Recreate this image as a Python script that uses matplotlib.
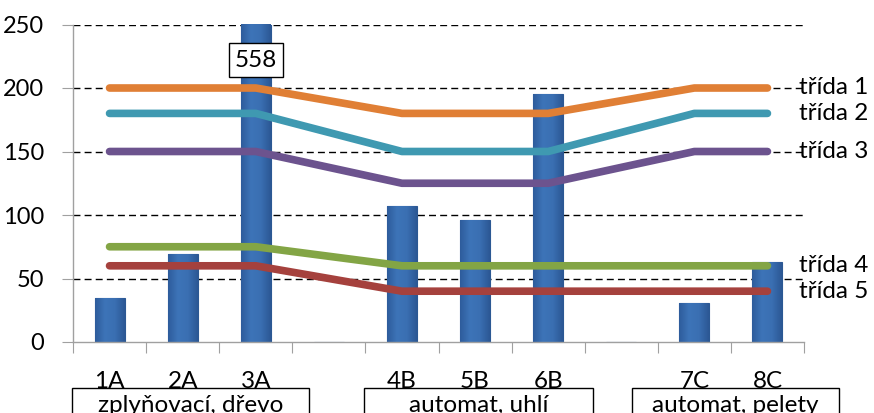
import matplotlib
matplotlib.use("Agg")
import matplotlib.pyplot as plt
import matplotlib.transforms as mtransforms
from matplotlib.patches import Rectangle
from matplotlib.colors import LinearSegmentedColormap
import numpy as np

plt.rcParams['font.family'] = ['Lato', 'DejaVu Sans']

categories = ["1A", "2A", "3A", "", "4B", "5B", "6B", "", "7C", "8C"]
bar_values = [35, 69, 558, 0, 107, 96, 195, 0, 31, 63]

line_categories = ["1A", "2A", "3A", "4B", "5B", "6B", "7C", "8C"]
class_names = ["třída 1", "třída 2", "třída 3", "třída 4", "třída 5"]
class_limits = [
    [200, 200, 200, 180, 180, 180, 200, 200],
    [180, 180, 180, 150, 150, 150, 180, 180],
    [150, 150, 150, 125, 125, 125, 150, 150],
    [75, 75, 75, 60, 60, 60, 60, 60],
    [60, 60, 60, 40, 40, 40, 40, 40],
]
class_colors = ["#E07F35", "#3F99B1", "#6C538E", "#83A545", "#A5413D"]

groups = ["zplyňovací, dřevo", "automat, uhlí", "automat, pelety"]
group_boxes = [(-0.51, 2.73), (3.48, 6.61), (7.15, 9.98)]

fig = plt.figure(figsize=(8.74, 4.13), dpi=100)
ax = fig.add_axes([73/874, 1-342/413, (804-73)/874, (342-24.5)/413])

x = np.arange(len(categories))
bars = ax.bar(x, bar_values, width=0.41, color="#3767AA", edgecolor="#2B5893",
              linewidth=0.8, zorder=2)

grad = np.linspace(0, 1, 64).reshape(1, -1)
cmap = LinearSegmentedColormap.from_list("b", ["#2E5C9C", "#3D74B8", "#3A6FB2", "#2C5895"])
for b in bars:
    if b.get_height() <= 0:
        continue
    x0, w = b.get_x(), b.get_width()
    h = min(b.get_height(), 250)
    im = ax.imshow(grad, cmap=cmap, extent=[x0, x0 + w, 0, h], aspect="auto", zorder=2.1)
    im.set_clip_path(b)

ax.set_xlim(-0.5, len(categories) - 0.5)
ax.set_ylim(0, 250)

idx = {c: i for i, c in enumerate(categories)}
lx = [idx[c] for c in line_categories]
for name, vals, col in zip(class_names, class_limits, class_colors):
    ax.plot(lx, vals, color=col, lw=5.5, solid_capstyle="round", solid_joinstyle="round", zorder=3)
    ax.text(lx[-1] + 0.43, vals[-1], name, ha="left", va="center", fontsize=17.5, clip_on=False, zorder=4)

ax.text(idx["3A"], 222, "558", ha="center", va="center", fontsize=17.5, zorder=5,
        bbox=dict(boxstyle="square,pad=0.25", fc="white", ec="black", lw=1))

ax.set_yticks([0, 50, 100, 150, 200, 250])
for yv in [50, 100, 150, 200, 250]:
    ax.axhline(yv, color="black", lw=1, ls=(0, (5, 3)), zorder=1)

ax.tick_params(axis="y", labelsize=17, length=8, color="#A0A0A0", pad=13)
ax.set_xticks(np.arange(-0.5, len(categories), 1.0))
ax.set_xticklabels([])
ax.tick_params(axis="x", which="major", length=8, color="#A0A0A0")
ax.set_xticks(x, minor=True)
ax.set_xticklabels(categories, minor=True)
ax.tick_params(axis="x", which="minor", length=0, labelsize=17.5, pad=21)

for s in ["top", "right"]:
    ax.spines[s].set_visible(False)
for s in ["left", "bottom"]:
    ax.spines[s].set_color("#A0A0A0")
    ax.spines[s].set_linewidth(1)

trans = mtransforms.blended_transform_factory(ax.transData, ax.transAxes)
box_top = -(388 - 342) / 317.5
for g, (bx0, bx1) in zip(groups, group_boxes):
    ax.add_patch(Rectangle((bx0, box_top - 0.3), bx1 - bx0, 0.3, transform=trans,
                           fc="white", ec="black", lw=1, clip_on=False))
    ax.text((bx0 + bx1) / 2, -0.2, g, transform=trans, ha="center", va="center",
            fontsize=17.5, clip_on=False)

fig.savefig("out.png", dpi=100)
